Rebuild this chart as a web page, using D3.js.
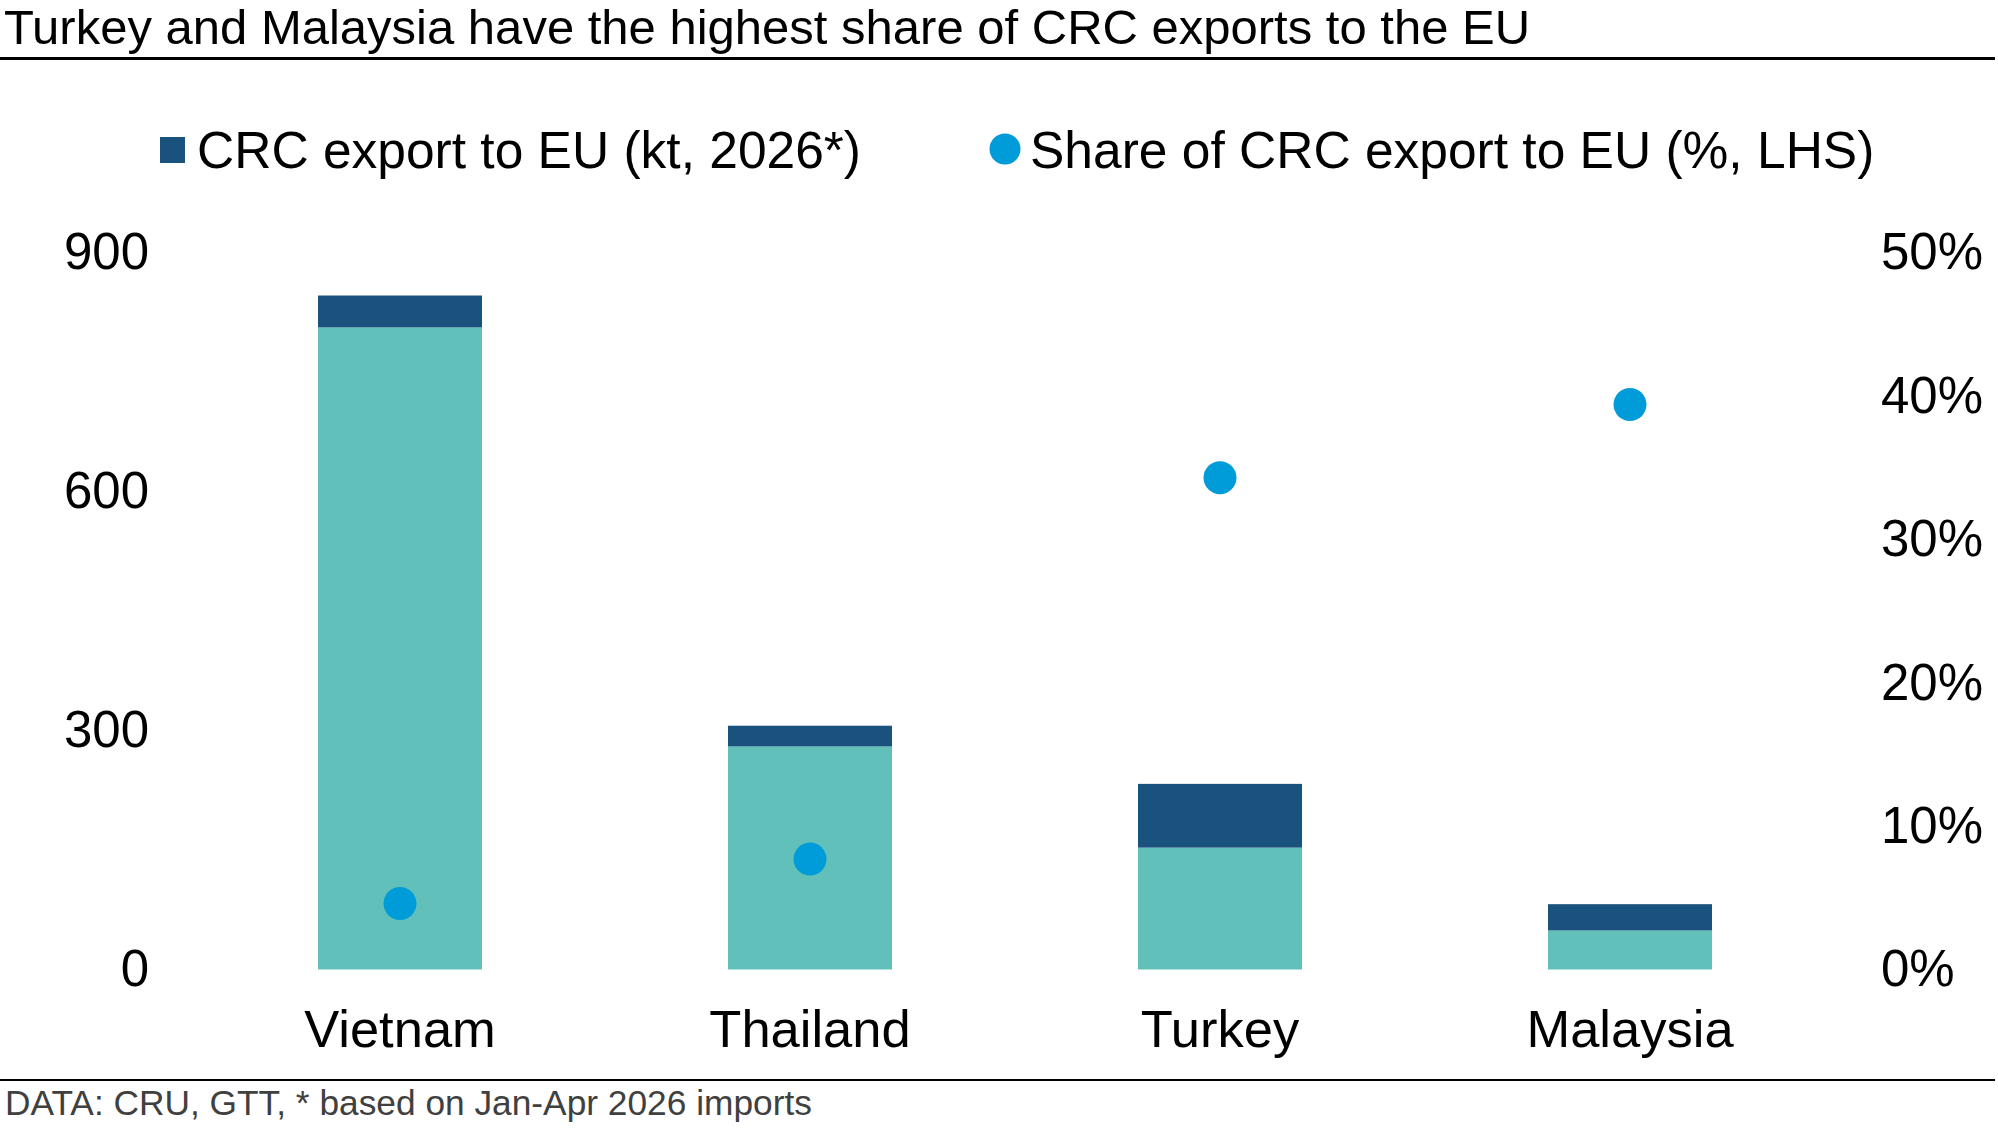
<!DOCTYPE html>
<html>
<head>
<meta charset="utf-8">
<script src="https://cdn.jsdelivr.net/npm/d3@7"></script>
<style>
  html, body { margin: 0; padding: 0; background: #fff; }
  svg { display: block; font-family: "Liberation Sans", Arial, sans-serif; }
</style>
</head>
<body>
<svg id="chart" width="1998" height="1129"></svg>
<script>
const countries = ['Vietnam', 'Thailand', 'Turkey', 'Malaysia'];
// kt, 2026*: exports to EU and to everywhere else (stacked below)
const exportToEU = [40, 26, 80, 33];
const exportOther = [806, 280, 153, 49];
// share of CRC exports going to the EU, %
const shareEU = [4.6, 7.7, 34.3, 39.4];

const leftTicks = [0, 300, 600, 900];
const rightTicks = [0, 10, 20, 30, 40, 50];

const svg = d3.select('#chart');

const x = d3.scaleBand()
  .domain(countries)
  .range([195, 1835])
  .paddingInner(0.6)
  .paddingOuter(0.3);

const yL = d3.scaleLinear().domain([0, 900]).range([969.5, 252.5]);
const yR = d3.scaleLinear().domain([0, 50]).range([969.5, 252.5]);

const DARK = '#19527c', TEAL = '#62c0ba', DOT = '#009bd9';

// title
svg.append('text')
  .attr('x', 4).attr('y', 44)
  .attr('font-size', 49)
  .attr('fill', '#000')
  .text('Turkey and Malaysia have the highest share of CRC exports to the EU');
svg.append('line')
  .attr('x1', 0).attr('x2', 1995)
  .attr('y1', 58.5).attr('y2', 58.5)
  .attr('stroke', '#000').attr('stroke-width', 3);

// legend
const lg = svg.append('g').attr('font-size', 51.5);
lg.append('rect').attr('x', 160).attr('y', 137).attr('width', 25).attr('height', 26).attr('fill', DARK);
lg.append('text').attr('x', 197).attr('y', 149).attr('dy', '0.36em').text('CRC export to EU (kt, 2026*)');
lg.append('circle').attr('cx', 1005).attr('cy', 149).attr('r', 15.5).attr('fill', DOT);
lg.append('text').attr('x', 1030).attr('y', 149).attr('dy', '0.36em').text('Share of CRC export to EU (%, LHS)');

// axes
const axL = svg.append('g')
  .attr('transform', 'translate(149,0)')
  .call(d3.axisLeft(yL).tickValues(leftTicks).tickSize(0).tickPadding(0));
const axR = svg.append('g')
  .attr('transform', 'translate(1881,0)')
  .call(d3.axisRight(yR).tickValues(rightTicks).tickSize(0).tickPadding(0).tickFormat(d => d + '%'));
const axB = svg.append('g')
  .attr('transform', 'translate(0,970)')
  .call(d3.axisBottom(x).tickSize(0).tickPadding(0));

[axL, axR, axB].forEach(a => {
  a.select('.domain').remove();
  a.selectAll('text').attr('font-family', '"Liberation Sans", Arial, sans-serif')
    .attr('font-size', 51).attr('fill', '#000');
});
axB.selectAll('text').attr('dy', null).attr('y', 77).attr('font-size', 52.5);

// stacked bars
const rows = countries.map((c, i) => ({ c, other: exportOther[i], eu: exportToEU[i] }));
const bars = svg.append('g');
bars.selectAll('rect.other').data(rows).join('rect')
  .attr('x', d => x(d.c)).attr('width', x.bandwidth())
  .attr('y', d => yL(d.other)).attr('height', d => yL(0) - yL(d.other))
  .attr('fill', TEAL);
bars.selectAll('rect.eu').data(rows).join('rect')
  .attr('x', d => x(d.c)).attr('width', x.bandwidth())
  .attr('y', d => yL(d.other + d.eu)).attr('height', d => yL(d.other) - yL(d.other + d.eu))
  .attr('fill', DARK);

// share dots
svg.append('g').selectAll('circle').data(countries).join('circle')
  .attr('cx', d => x(d) + x.bandwidth() / 2)
  .attr('cy', (d, i) => yR(shareEU[i]))
  .attr('r', 16.5)
  .attr('fill', DOT);

// footer
svg.append('line')
  .attr('x1', 0).attr('x2', 1995)
  .attr('y1', 1080).attr('y2', 1080)
  .attr('stroke', '#000').attr('stroke-width', 2);
svg.append('text')
  .attr('x', 5).attr('y', 1115)
  .attr('font-size', 35.3)
  .attr('fill', '#404040')
  .text('DATA: CRU, GTT, * based on Jan-Apr 2026 imports');
</script>
</body>
</html>
